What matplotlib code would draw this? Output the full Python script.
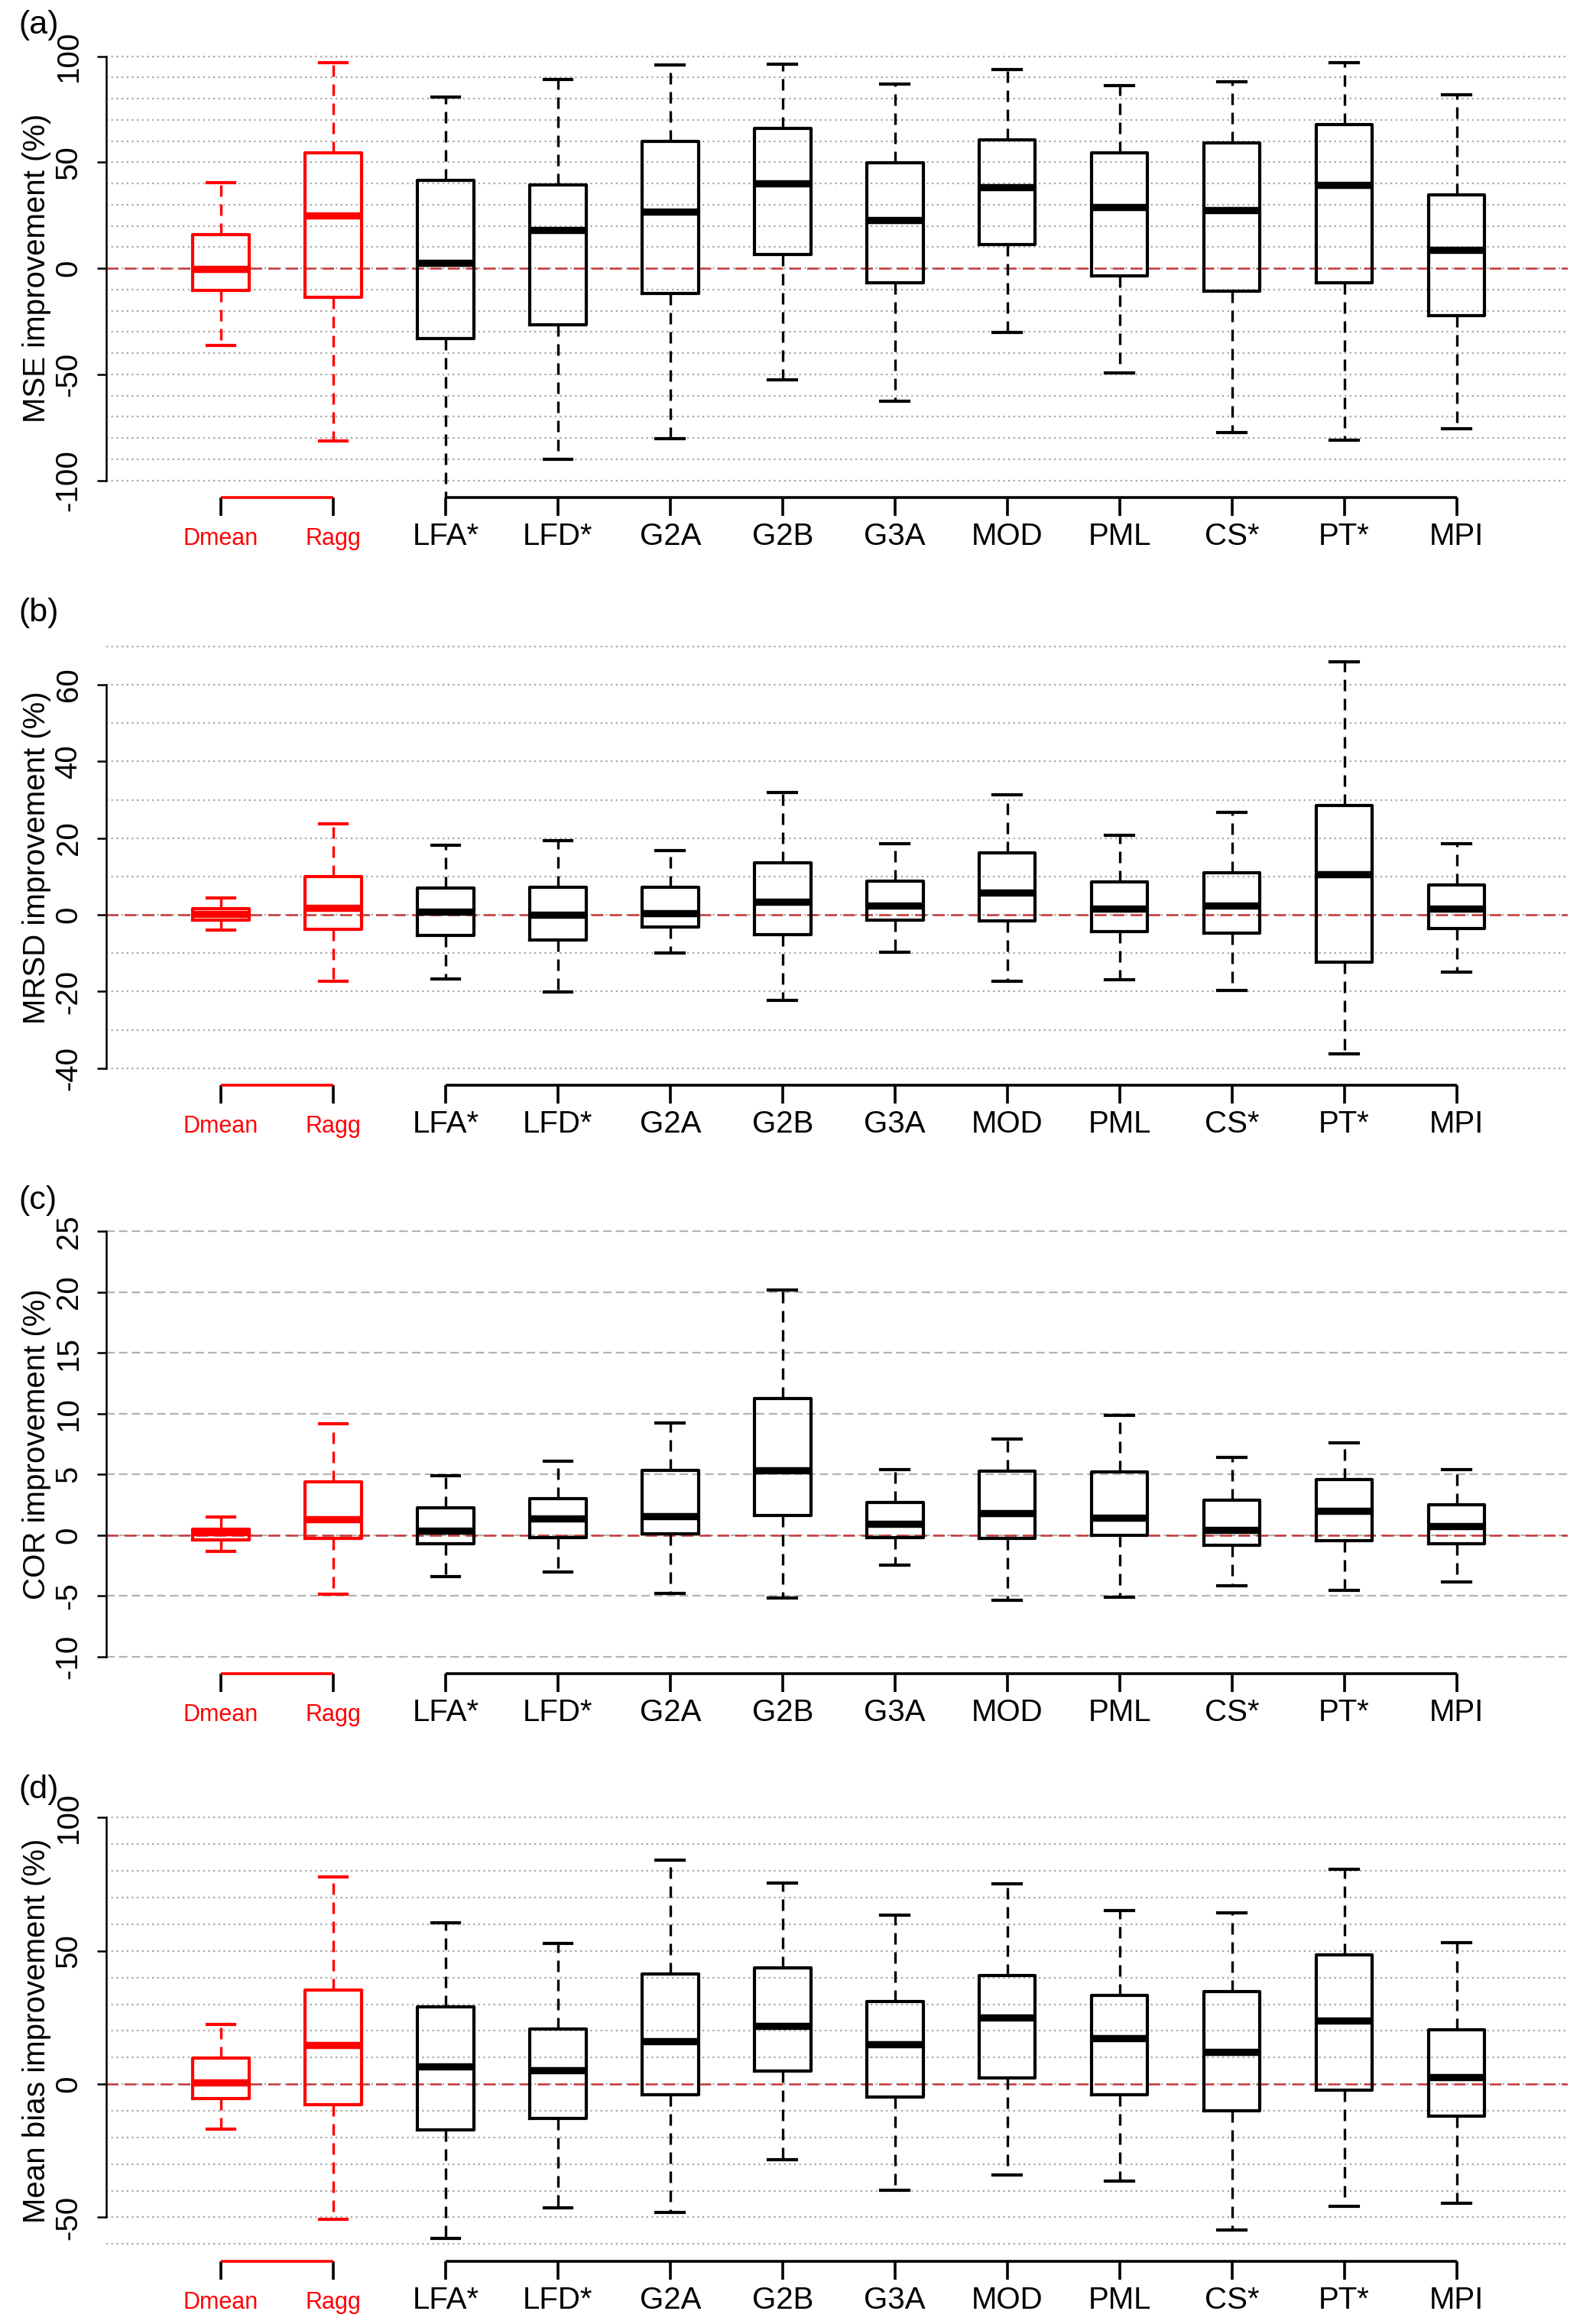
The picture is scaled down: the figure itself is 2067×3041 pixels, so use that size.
import matplotlib
matplotlib.use("Agg")
import matplotlib.pyplot as plt

plt.rcParams['font.family'] = ['Liberation Sans', 'DejaVu Sans']

categories = ['Dmean', 'Ragg', 'LFA*', 'LFD*', 'G2A', 'G2B', 'G3A', 'MOD', 'PML', 'CS*', 'PT*', 'MPI']
n_ref = 2  # first two boxes are the red reference methods

# (a) MSE improvement (%)
mse_hi = [40.5, 97, 80.7, 88.9, 95.9, 96.4, 86.8, 93.7, 86, 87.9, 97.1, 81.8]
mse_q3 = [16, 54.5, 41.3, 39.2, 59.8, 66.1, 49.9, 60.7, 54.5, 59, 67.8, 34.7]
mse_med = [-0.3, 25, 2.5, 18.2, 26.6, 40, 22.8, 38.3, 28.9, 27.3, 39.3, 8.8]
mse_q1 = [-10.4, -13.5, -33, -26.8, -11.9, 6.6, -6.9, 11.2, -3.6, -10.7, -6.9, -22.3]
mse_lo = [-36.4, -81.5, -115, -90.1, -80.2, -52.6, -62.5, -30.2, -49.2, -77.3, -81, -75.7]

# (b) MRSD improvement (%)
mrsd_hi = [4.4, 23.8, 18.2, 19.4, 16.8, 32, 18.5, 31.4, 20.8, 26.7, 66, 18.5]
mrsd_q3 = [1.6, 10, 6.9, 7.1, 7.1, 13.6, 8.8, 16.2, 8.6, 10.9, 28.5, 7.8]
mrsd_med = [0.3, 1.8, 0.9, 0.1, 0.5, 3.5, 2.4, 5.8, 1.6, 2.5, 10.5, 1.6]
mrsd_q1 = [-1.3, -3.7, -5.4, -6.6, -3.1, -5.1, -1.3, -1.5, -4.4, -4.7, -12.4, -3.6]
mrsd_lo = [-4.0, -17.3, -16.8, -20.2, -10, -22.4, -9.7, -17.3, -17, -19.7, -36.3, -15]

# (c) COR improvement (%)
cor_hi = [1.46, 9.14, 4.88, 6.1, 9.26, 20.2, 5.42, 7.9, 9.88, 6.37, 7.6, 5.42]
cor_q3 = [0.48, 4.4, 2.26, 3.0, 5.3, 11.25, 2.68, 5.24, 5.18, 2.9, 4.58, 2.47]
cor_med = [0.25, 1.28, 0.33, 1.37, 1.58, 5.3, 0.9, 1.79, 1.43, 0.45, 2.02, 0.74]
cor_q1 = [-0.39, -0.3, -0.74, -0.2, 0.12, 1.64, -0.2, -0.3, 0.0, -0.83, -0.45, -0.71]
cor_lo = [-1.31, -4.88, -3.42, -3.07, -4.82, -5.2, -2.5, -5.36, -5.1, -4.17, -4.52, -3.87]

# (d) Mean bias improvement (%)
bias_hi = [22.3, 77.7, 60.5, 52.7, 84, 75.5, 63.3, 75.1, 65, 64.2, 80.6, 53.1]
bias_q3 = [9.8, 35.2, 29, 20.8, 41.3, 43.7, 31, 40.7, 33.2, 34.8, 48.5, 20.5]
bias_med = [0.7, 14.6, 6.6, 5.2, 16.1, 21.9, 15, 25.1, 17.2, 12, 23.9, 2.7]
bias_q1 = [-5.3, -7.8, -17.2, -13, -4.1, 4.9, -4.8, 2.3, -4.1, -10, -2.3, -12]
bias_lo = [-16.8, -50.7, -57.9, -46.4, -48.2, -28.3, -39.8, -34.2, -36.5, -54.9, -46, -44.8]

panels = [
    ('(a)', 'MSE improvement (%)', mse_lo, mse_q1, mse_med, mse_q3, mse_hi,
     (-100, 100), [-100, -50, 0, 50, 100], range(-100, 101, 10), 'dot'),
    ('(b)', 'MRSD improvement (%)', mrsd_lo, mrsd_q1, mrsd_med, mrsd_q3, mrsd_hi,
     (-40, 70), [-40, -20, 0, 20, 40, 60], range(-40, 71, 10), 'dot'),
    ('(c)', 'COR improvement (%)', cor_lo, cor_q1, cor_med, cor_q3, cor_hi,
     (-10, 25), [-10, -5, 0, 5, 10, 15, 20, 25], range(-10, 26, 5), 'dash'),
    ('(d)', 'Mean bias improvement (%)', bias_lo, bias_q1, bias_med, bias_q3, bias_hi,
     (-60, 100), [-50, 0, 50, 100], range(-60, 101, 10), 'dot'),
]

ax_left, ax_width = 0.0673, 0.925
ax_rows = [(0.7860, 0.1971), (0.5331, 0.1960), (0.2799, 0.1975), (0.0271, 0.1981)]
tag_y = [0.9892, 0.7363, 0.4834, 0.2299]

fig = plt.figure(figsize=(2067 / 200, 3041 / 200), dpi=200)

for k, (tag, ylab, lo, q1, med, q3, hi, yr, yticks, ygrid, gstyle) in enumerate(panels):
    b, h = ax_rows[k]
    ax = fig.add_axes([ax_left, b, ax_width, h])
    ext = 0.04 * (yr[1] - yr[0])
    ylo, yhi = yr[0] - ext, yr[1] + ext
    ax.set_xlim(-0.02, 12.99)
    ax.set_ylim(ylo, yhi)

    # grid lines
    if gstyle == 'dot':
        gls, gcol = (0, (1, 2)), '#a6a6a6'
    else:
        gls, gcol = (0, (5, 2.5)), '#b3b3b3'
    for g in ygrid:
        ax.axhline(g, color=gcol, lw=0.8, ls=gls, zorder=0)
    ax.axhline(0, color='#c83737', lw=0.9, ls=(0, (6.2, 3.2)), zorder=1)

    stats = [dict(whislo=lo[i], q1=q1[i], med=med[i], q3=q3[i], whishi=hi[i], fliers=[])
             for i in range(len(categories))]
    for sl, col in [(slice(0, n_ref), 'red'), (slice(n_ref, None), 'black')]:
        pos = list(range(1, len(categories) + 1))[sl]
        ax.bxp(stats[sl], positions=pos, widths=0.5, capwidths=0.25,
               showfliers=False, manage_ticks=False, zorder=3,
               boxprops=dict(color=col, lw=1.5),
               whiskerprops=dict(color=col, lw=1.2, ls=(0, (4.5, 3))),
               capprops=dict(color=col, lw=1.5),
               medianprops=dict(color=col, lw=3.4, solid_capstyle='butt'))

    # spines / y axis (R style)
    for s in ['top', 'right', 'bottom']:
        ax.spines[s].set_visible(False)
    ax.spines['left'].set_bounds(yticks[0], yticks[-1])
    ax.spines['left'].set_linewidth(0.9)
    ax.set_yticks(yticks)
    ax.set_yticklabels([str(t) for t in yticks])
    ax.tick_params(axis='y', length=4.5, width=0.9, pad=6.5, labelsize=14.5, labelrotation=90)
    for lbl in ax.get_yticklabels():
        lbl.set_va('center')
    ax.set_ylabel(ylab, fontsize=14.5)
    ax.yaxis.set_label_coords(-0.0375, 0.5)

    # x axis: two separate brackets, red for reference methods
    ax.set_xticks(range(1, len(categories) + 1))
    ax.set_xticklabels([])
    ax.tick_params(axis='x', length=8.8, width=1.3, direction='out')
    for i, t in enumerate(ax.xaxis.get_major_ticks()):
        t.tick1line.set_color('red' if i < n_ref else 'black')
    ax.plot([1, n_ref], [ylo, ylo], color='red', lw=1.3, clip_on=False, solid_capstyle='butt')
    ax.plot([n_ref + 1, len(categories)], [ylo, ylo], color='black', lw=1.3,
            clip_on=False, solid_capstyle='butt')
    for i, cat in enumerate(categories):
        red = i < n_ref
        ax.annotate(cat, xy=(i + 1, 0), xycoords=('data', 'axes fraction'),
                    xytext=(0, -22.5), textcoords='offset points',
                    ha='center', va='baseline',
                    color='red' if red else 'black', fontsize=11 if red else 14.5)

    fig.text(0.012, tag_y[k], tag, fontsize=15.5, ha='left', va='center')

fig.savefig('out.png', dpi=200)
